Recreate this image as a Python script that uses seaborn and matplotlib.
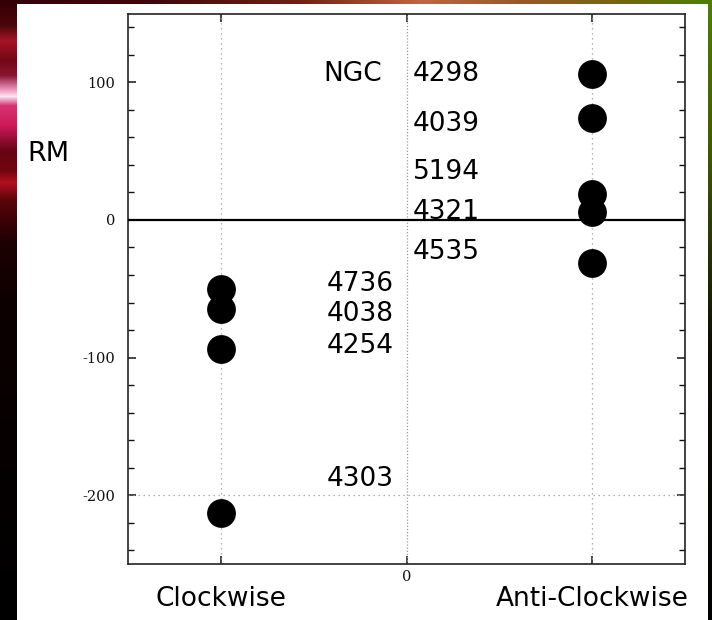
import numpy as np
import pandas as pd
import matplotlib
matplotlib.use("Agg")
import matplotlib.pyplot as plt
import seaborn as sns

# Rotation measures of the galaxies, grouped by spiral winding sense
direction = ["Anti-Clockwise"] * 5 + ["Clockwise"] * 4
ngc = ["4298", "4039", "5194", "4321", "4535", "4736", "4038", "4254", "4303"]
rm = [106, 74, 19, 6, -31, -50, -65, -94, -213]

x_ticks = [-1, 0, 1]
x_tick_labels = ["Clockwise", "0", "Anti-Clockwise"]
y_ticks = [100, 0, -100, -200]

sns.set_style("ticks")
plt.rcParams["font.family"] = ["DejaVu Sans"]
plt.rcParams["axes.unicode_minus"] = False
plt.rcParams["text.color"] = "black"
plt.rcParams["xtick.color"] = "black"
plt.rcParams["ytick.color"] = "black"

W, H, DPI = 712, 620, 100
fig = plt.figure(figsize=(W / DPI, H / DPI), dpi=DPI)

# slide backdrop: coloured edges around a white panel
bg = np.zeros((H, W, 3))
yy = np.arange(H)
ky = [0, 25, 40, 60, 75, 88, 96, 105, 125, 150, 170, 182, 200, 240, 300, H]
kr = [0.20, 0.30, 0.65, 0.45, 0.55, 0.90, 1.00, 0.85, 0.80, 0.40, 0.45, 0.70, 0.35, 0.12, 0.05, 0.0]
kg = [0.00, 0.02, 0.08, 0.03, 0.08, 0.55, 0.90, 0.20, 0.10, 0.02, 0.02, 0.06, 0.02, 0.0, 0.0, 0.0]
kb = [0.02, 0.04, 0.15, 0.08, 0.20, 0.70, 0.95, 0.45, 0.35, 0.08, 0.06, 0.12, 0.04, 0.01, 0.0, 0.0]
left = np.stack([np.interp(yy, ky, kr), np.interp(yy, ky, kg), np.interp(yy, ky, kb)], axis=1)
bg[:, :17, :] = left[:, None, :]
xx = np.arange(W)
kx = [0, 150, 300, 420, 520, 620, W]
tr = [0.20, 0.25, 0.45, 0.75, 0.60, 0.45, 0.30]
tg = [0.00, 0.03, 0.12, 0.40, 0.35, 0.40, 0.50]
tb = [0.03, 0.04, 0.08, 0.25, 0.15, 0.05, 0.00]
top = np.stack([np.interp(xx, kx, tr), np.interp(xx, kx, tg), np.interp(xx, kx, tb)], axis=1)
bg[:4, :, :] = top[None, :, :]
rgy = [0, 150, 350, H]
right = np.stack([np.interp(yy, rgy, [0.30, 0.25, 0.05, 0.0]),
                  np.interp(yy, rgy, [0.50, 0.35, 0.05, 0.0]),
                  np.interp(yy, rgy, [0.00, 0.00, 0.0, 0.0])], axis=1)
bg[4:, 708:, :] = right[4:, None, :]
bg[4:, 17:708, :] = 1.0
fig.figimage(bg, xo=0, yo=0, origin="upper", zorder=-10)

ax = fig.add_axes([128 / W, 1 - 564 / H, (685 - 128) / W, (564 - 13.5) / H])
ax.set_zorder(2)
ax.set_facecolor("white")

df = pd.DataFrame({"direction": direction, "ngc": ngc, "rm": rm})
xpos = {"Clockwise": -1, "Anti-Clockwise": 1}
df["x"] = df["direction"].map(xpos)

sns.scatterplot(data=df, x="x", y="rm", s=430, color="black", edgecolor="black",
                linewidth=0, legend=False, zorder=4, ax=ax)

ax.set_xlim(-1.5, 1.5)
ax.set_ylim(-250, 150)

# grid and zero axis
for xv in x_ticks:
    ax.axvline(xv, color="#9a9a9a", lw=0.9, ls=(0, (1, 3)) if xv else (0, (1, 1.5)), zorder=1)
ax.axhline(-200, color="#9a9a9a", lw=0.9, ls=(0, (1, 3)), zorder=1)
ax.axhline(0, color="black", lw=1.6, zorder=5)

ax.set_xticks(x_ticks)
ax.set_xticklabels(["", "0", ""])
ax.set_yticks(y_ticks)
ax.set_yticklabels([str(v) for v in y_ticks])
ax.set_yticks(np.arange(-240, 150, 20), minor=True)
ax.tick_params(which="both", direction="in", top=True, right=True, color="#111111")
ax.tick_params(which="major", length=5.5, width=1.1)
ax.tick_params(which="minor", length=4.5, width=1.0)
ax.tick_params(axis="y", pad=9)
ax.tick_params(axis="x", pad=4)
for lbl in ax.get_yticklabels() + ax.get_xticklabels():
    lbl.set_fontfamily("DejaVu Serif")
    lbl.set_fontsize(10.5)
    lbl.set_color("#111111")
for s in ax.spines.values():
    s.set_linewidth(1.2)
    s.set_color("#222222")
ax.set_xlabel("")
ax.set_ylabel("")

# category names under the axis
for name, xv in xpos.items():
    ax.text(xv, -0.064, name, transform=ax.get_xaxis_transform(), ha="center", va="center",
            fontsize=19, color="black")

fig.text(27 / W, 1 - 154 / H, "RM", ha="left", va="center", fontsize=19.5, color="black")

# galaxy names placed in the middle of the panel
label_y = {"4298": 106, "4039": 70, "5194": 34.5, "4321": 6, "4535": -23.5,
           "4736": -46.5, "4038": -68, "4254": -91.5, "4303": -188}
for _, row in df.iterrows():
    if row["direction"] == "Anti-Clockwise":
        ax.text(0.035, label_y[row["ngc"]], row["ngc"], ha="left", va="center",
                fontsize=19, color="black", zorder=3)
    else:
        ax.text(-0.07, label_y[row["ngc"]], row["ngc"], ha="right", va="center",
                fontsize=19, color="black", zorder=3)
ax.text(-0.13, label_y["4298"], "NGC", ha="right", va="center", fontsize=19,
        color="black", zorder=3)

fig.savefig("out.png", dpi=DPI)
